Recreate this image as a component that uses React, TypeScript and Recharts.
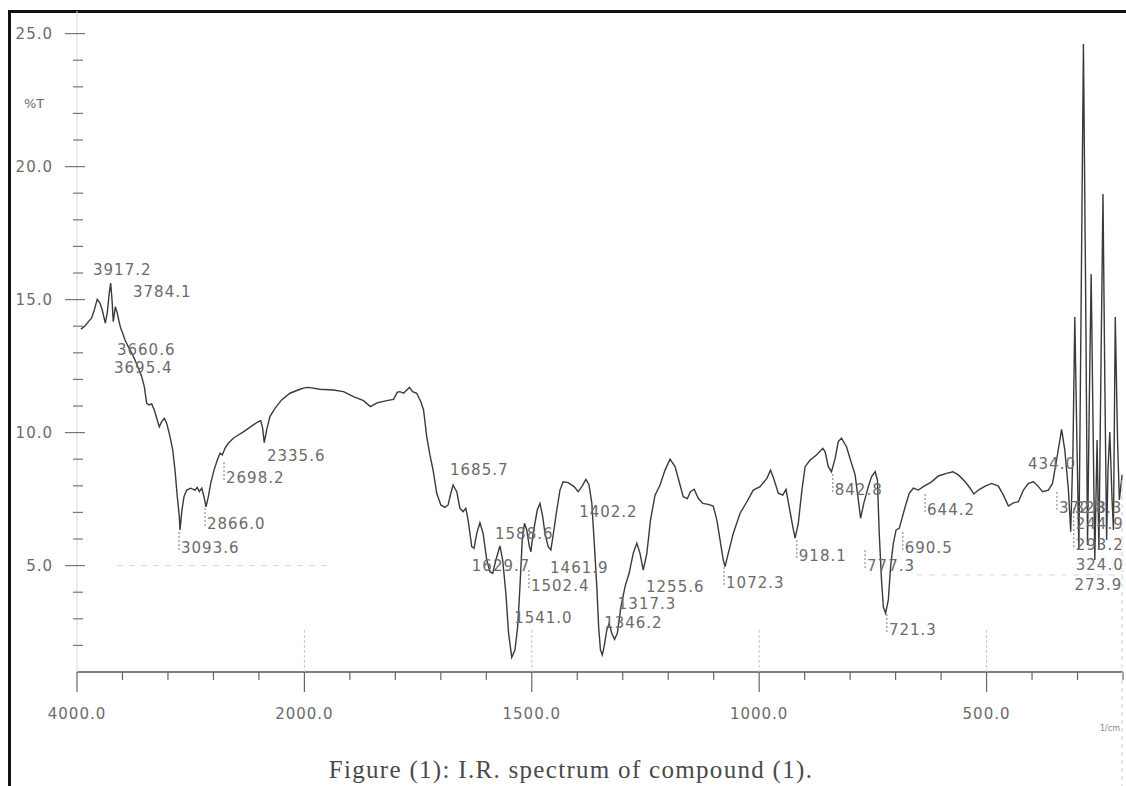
import React from 'react';
import { ComposedChart, Line, Scatter, XAxis, YAxis, ReferenceLine } from 'recharts';

// spectrum: wavenumber (1/cm) and %T
const wavenumber = [
  3965, 3930, 3892, 3871, 3848, 3822, 3798, 3778, 3751, 3734, 3716, 3704, 3692, 3681, 3663, 3646,
  3633, 3616, 3598, 3578, 3549, 3519, 3490, 3461, 3431, 3408, 3387, 3367, 3343, 3320, 3299, 3276,
  3255, 3232, 3211, 3182, 3158, 3138, 3118, 3100, 3094, 3077, 3059, 3035, 3000, 2962, 2942, 2924,
  2903, 2883, 2865, 2845, 2824, 2795, 2766, 2742, 2722, 2698, 2669, 2625, 2581, 2537, 2493, 2449,
  2405, 2384, 2367, 2353, 2332, 2303, 2259, 2200, 2127, 2039, 2000, 1991, 1966, 1936, 1914, 1892,
  1870, 1855, 1840, 1819, 1804, 1796, 1790, 1782, 1769, 1762, 1753, 1744, 1738, 1731, 1724, 1717,
  1709, 1700, 1691, 1684, 1678, 1673, 1665, 1658, 1651, 1645, 1640, 1632, 1627, 1621, 1614, 1607,
  1599, 1592, 1586, 1579, 1570, 1564, 1557, 1551, 1544, 1537, 1531, 1526, 1521, 1516, 1511, 1506,
  1502, 1497, 1488, 1482, 1476, 1471, 1464, 1458, 1453, 1445, 1438, 1431, 1420, 1407, 1398, 1390,
  1381, 1374, 1368, 1363, 1357, 1353, 1349, 1345, 1341, 1335, 1330, 1324, 1318, 1312, 1304, 1295,
  1286, 1277, 1269, 1262, 1255, 1247, 1239, 1229, 1218, 1207, 1196, 1185, 1174, 1167, 1158, 1151,
  1143, 1134, 1124, 1112, 1101, 1093, 1086, 1079, 1075, 1068, 1057, 1042, 1027, 1013, 998, 983,
  975, 967, 958, 948, 941, 934, 926, 921, 914, 906, 899, 888, 874, 860, 855, 848,
  841, 833, 826, 819, 808, 797, 789, 782, 777, 770, 760, 753, 745, 740, 736, 731,
  727, 722, 716, 711, 705, 699, 692, 687, 679, 670, 661, 650, 639, 621, 606, 588,
  574, 562, 547, 536, 528, 518, 503, 489, 474, 463, 452, 441, 430, 419, 408, 397,
  386, 377, 364, 355, 346, 335, 328, 320, 315, 310, 306, 301, 297, 292, 287, 282,
  278, 274, 270, 266, 262, 257, 253, 248, 244, 240, 236, 233, 229, 224, 221, 217,
  212, 208, 202,
];

const transmittance = [
  13.89, 14.01, 14.21, 14.31, 14.61, 15.01, 14.87, 14.61, 14.12, 14.5, 15.25, 15.62, 14.99, 14.17, 14.73, 14.5,
  14.23, 13.93, 13.74, 13.48, 13.23, 12.99, 12.73, 12.43, 12.1, 11.73, 11.1, 11.04, 11.08, 10.85, 10.54, 10.22,
  10.41, 10.54, 10.35, 9.85, 9.35, 8.59, 7.59, 6.84, 6.34, 7.09, 7.59, 7.84, 7.91, 7.84, 7.94, 7.78,
  7.91, 7.59, 7.21, 7.59, 8.09, 8.59, 8.97, 9.22, 9.16, 9.41, 9.6, 9.79, 9.91, 10.03, 10.16, 10.29,
  10.41, 10.45, 10.16, 9.62, 10.1, 10.6, 10.91, 11.23, 11.48, 11.63, 11.68, 11.7, 11.63, 11.6, 11.54, 11.35,
  11.2, 10.98, 11.12, 11.2, 11.25, 11.51, 11.54, 11.48, 11.7, 11.54, 11.48, 11.16, 10.85, 9.85, 9.16, 8.59,
  7.72, 7.28, 7.19, 7.28, 7.72, 8.03, 7.78, 7.15, 7.03, 7.15, 6.71, 5.71, 5.65, 6.21, 6.61, 6.21,
  5.21, 4.77, 4.71, 5.21, 5.74, 5.21, 3.96, 2.45, 1.55, 1.83, 2.7, 4.21, 5.96, 6.59, 6.34, 5.77,
  5.52, 6.21, 7.09, 7.34, 6.84, 6.21, 5.71, 5.59, 6.15, 7.09, 7.84, 8.15, 8.12, 7.97, 7.78, 7.97,
  8.24, 8.03, 7.34, 5.96, 4.21, 2.7, 1.83, 1.64, 1.95, 2.58, 2.83, 2.45, 2.23, 2.45, 3.45, 4.21,
  4.71, 5.46, 5.84, 5.46, 4.83, 5.46, 6.71, 7.65, 8.03, 8.59, 9.0, 8.72, 8.03, 7.59, 7.52, 7.78,
  7.87, 7.53, 7.34, 7.3, 7.24, 6.71, 5.96, 5.21, 4.96, 5.46, 6.21, 6.97, 7.4, 7.84, 7.97, 8.28,
  8.59, 8.22, 7.72, 7.65, 7.87, 7.21, 6.46, 6.03, 6.59, 7.84, 8.72, 8.97, 9.16, 9.41, 9.28, 8.72,
  8.53, 9.03, 9.66, 9.79, 9.47, 8.85, 8.41, 7.47, 6.78, 7.34, 7.97, 8.34, 8.53, 8.22, 6.21, 4.46,
  3.45, 3.21, 3.71, 4.96, 5.84, 6.34, 6.4, 6.71, 7.21, 7.72, 7.91, 7.84, 7.97, 8.15, 8.37, 8.47,
  8.53, 8.41, 8.15, 7.91, 7.69, 7.84, 7.99, 8.09, 7.99, 7.65, 7.24, 7.36, 7.4, 7.84, 8.09, 8.15,
  7.97, 7.78, 7.84, 8.09, 8.97, 10.12, 9.35, 7.84, 6.27, 9.35, 14.35, 9.35, 5.59, 14.99, 24.61, 14.99,
  5.77, 11.23, 15.96, 10.47, 5.21, 9.72, 5.59, 13.11, 18.97, 11.98, 5.96, 8.59, 10.02, 7.47, 6.34, 14.35,
  9.72, 7.47, 8.41,
];

// peak labels printed by the instrument (text, where it sits on the chart, drop mark or not)
const peakText = [
  '3917.2', '3784.1', '3660.6', '3695.4', '3093.6', '2866.0', '2698.2', '2335.6',
  '1685.7', '1588.6', '1629.7', '1461.9', '1502.4', '1541.0', '1402.2', '1317.3',
  '1346.2', '1255.6', '1072.3', '918.1', '842.8', '777.3', '690.5', '644.2',
  '721.3', '434.0', '372.8', '328.3', '244.9', '293.2', '324.0', '273.9',
];
const peakWn = [
  3868, 3516, 3657, 3683, 3094, 2865, 2698, 2338,
  1682, 1583, 1634, 1462, 1504, 1541, 1398, 1313,
  1343, 1251, 1075, 915, 836, 765, 682, 633,
  717, 411, 343, 309, 306, 306, 306, 309,
];
const peakT = [
  16.11, 15.29, 13.11, 12.43, 5.66, 6.56, 8.29, 9.12,
  8.59, 6.19, 4.98, 4.91, 4.23, 3.03, 7.02, 3.56,
  2.84, 4.2, 4.35, 5.36, 7.84, 4.98, 5.66, 7.09,
  2.58, 8.82, 7.17, 7.17, 6.56, 5.77, 5.02, 4.27,
];
const peakMark = [
  false, false, false, false, true, true, true, false,
  false, false, false, false, true, false, false, false,
  false, false, true, true, true, true, true, true,
  true, false, true, false, true, true, false, false,
];

const xMajorTicks = [4000, 2000, 1500, 1000, 500];
const xMinorTicks = [3600, 3200, 2800, 2400, 1900, 1800, 1700, 1600, 1400, 1300, 1200, 1100, 900, 800, 700, 600, 400, 300, 200];
const yMajorTicks = [5, 10, 15, 20, 25];
const yMinorTicks = [2, 3, 4, 6, 7, 8, 9, 11, 12, 13, 14, 16, 17, 18, 19, 21, 22, 23, 24];

// the recorder runs at a quarter of the chart speed above 2000 1/cm (400 per division there, 100 below)
const toPos = (wn: number) => (wn >= 2000 ? (4000 - wn) / 4 : 2500 - wn);
const toWn = (p: number) => (p <= 500 ? 4000 - p * 4 : 2500 - p);

const spectrum = wavenumber.map((w, i) => ({ p: toPos(w), t: transmittance[i] }));
const peaks = peakText.map((text, i) => ({ text, p: toPos(peakWn[i]), t: peakT[i], mark: peakMark[i] }));

const xTicks = [...xMajorTicks, ...xMinorTicks].map(toPos).sort((a, b) => a - b);
const yTicks = [...yMajorTicks, ...yMinorTicks].sort((a, b) => a - b);

const numFont = 'DejaVu Sans, Verdana, sans-serif';
const textGrey = '#6b6b6b';

const XTick = (props: any) => {
  const { x, y, payload } = props;
  const wn = Math.round(toWn(payload.value));
  const major = xMajorTicks.includes(wn);
  return (
    <g>
      {major && wn !== 4000 && (
        <line x1={x} x2={x} y1={y - 42} y2={y} stroke="#c4c4c4" strokeWidth={1} strokeDasharray="3 2" />
      )}
      <line x1={x} x2={x} y1={y} y2={y + (major ? 20 : 8)} stroke="#666" strokeWidth={1.2} />
      {major && (
        <text x={x} y={y + 42} textAnchor="middle" dominantBaseline="central" fontSize={15}
          letterSpacing={1} fill={textGrey} fontFamily={numFont}>
          {wn.toFixed(1)}
        </text>
      )}
    </g>
  );
};

const YTick = (props: any) => {
  const { x, y, payload } = props;
  const v = payload.value;
  const major = yMajorTicks.includes(v);
  return (
    <g>
      <line x1={x - (major ? 12 : 4)} x2={x + (major ? 8 : 6)} y1={y} y2={y} stroke="#777" strokeWidth={1.2} />
      {major && (
        <text x={x - 24} y={y} textAnchor="end" dominantBaseline="central" fontSize={15}
          letterSpacing={1} fill={textGrey} fontFamily={numFont}>
          {v.toFixed(1)}
        </text>
      )}
    </g>
  );
};

const PeakLabel = (props: any) => {
  const { cx, cy, payload } = props;
  return (
    <g>
      {payload.mark && (
        <line x1={cx - 1} x2={cx - 1} y1={cy - 16} y2={cy + 3} stroke="#777" strokeWidth={1} strokeDasharray="2 2" />
      )}
      <text x={cx + 1} y={cy} dominantBaseline="central" fontSize={15} letterSpacing={1}
        fill={textGrey} fontFamily={numFont}>
        {payload.text}
      </text>
    </g>
  );
};

export default function App() {
  return (
    <div style={{ position: 'absolute', left: 0, top: 0, width: 1126, height: 786, background: '#fff', overflow: 'hidden' }}>
      <div style={{ position: 'absolute', left: 8, top: 10, width: 1200, height: 900, borderLeft: '3px solid #111', borderTop: '3px solid #111' }} />
      <div style={{ position: 'absolute', left: 0, top: 0 }}>
        <ComposedChart width={1126} height={786} margin={{ top: 11, right: 3, bottom: 74, left: 17 }}>
          <XAxis
            type="number"
            dataKey="p"
            domain={[0, 2300]}
            ticks={xTicks}
            interval={0}
            allowDataOverflow
            height={40}
            tickSize={0}
            tickMargin={0}
            tickLine={false}
            axisLine={{ stroke: '#555', strokeWidth: 1.6 }}
            tick={XTick}
          />
          <YAxis
            type="number"
            domain={[1, 25.85]}
            ticks={yTicks}
            interval={0}
            allowDataOverflow
            width={60}
            tickSize={0}
            tickMargin={0}
            tickLine={false}
            axisLine={{ stroke: '#d8d8d8', strokeWidth: 1 }}
            tick={YTick}
          />
          <ReferenceLine
            segment={[{ x: toPos(3648), y: 5 }, { x: toPos(1944), y: 5 }]}
            stroke="#d6d6d6"
            strokeDasharray="6 6"
          />
          <ReferenceLine
            segment={[{ x: toPos(653), y: 4.65 }, { x: toPos(200), y: 4.65 }]}
            stroke="#d6d6d6"
            strokeDasharray="6 6"
          />
          <Line
            data={spectrum}
            type="linear"
            dataKey="t"
            stroke="#3a3a3a"
            strokeWidth={1.4}
            dot={false}
            activeDot={false}
            isAnimationActive={false}
          />
          <Scatter data={peaks} dataKey="t" shape={PeakLabel} isAnimationActive={false} />
        </ComposedChart>
      </div>
      <svg width={1126} height={786} style={{ position: 'absolute', left: 0, top: 0, pointerEvents: 'none' }}>
        <text x={24} y={103} dominantBaseline="central" fontSize={13} fill={textGrey} fontFamily={numFont}>%T</text>
        <text x={1100} y={731} fontSize={8} fill="#888" fontFamily={numFont}>1/cm</text>
        <line x1={1122} x2={1122} y1={480} y2={786} stroke="#cfcfcf" strokeDasharray="4 4" />
        <text x={571} y={778} textAnchor="middle" fontSize={25} letterSpacing={1.3} fill="#4a4a4a"
          fontFamily="Liberation Serif, Times New Roman, serif">
          Figure (1): I.R. spectrum of compound (1).
        </text>
      </svg>
    </div>
  );
}
